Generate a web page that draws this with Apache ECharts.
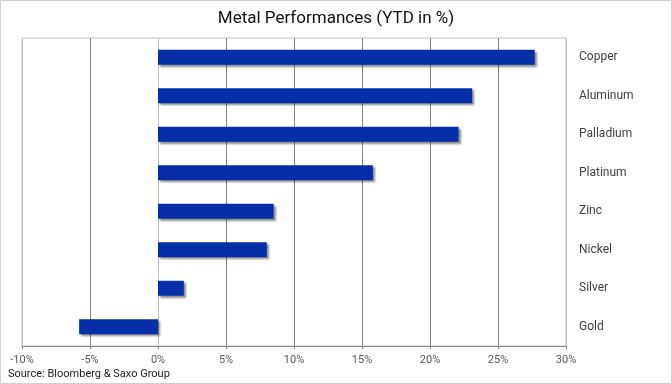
<!DOCTYPE html>
<html>
<head>
<meta charset="utf-8">
<script src="https://cdn.jsdelivr.net/npm/echarts@6/dist/echarts.min.js"></script>
<style>
html,body{margin:0;padding:0;background:#fff;}
#chart{width:672px;height:384px;}
</style>
</head>
<body>
<div id="chart"></div>
<script>
var categories = ['Copper','Aluminum','Palladium','Platinum','Zinc','Nickel','Silver','Gold'];
var values = [27.7, 23.1, 22.1, 15.8, 8.5, 8.0, 1.9, -5.8];
var titleText = 'Metal Performances (YTD in %)';
var sourceText = 'Source: Bloomberg & Saxo Group';

var chart = echarts.init(document.getElementById('chart'), null, {renderer:'canvas'});
var font = 'Roboto, "Noto Sans", sans-serif';
chart.setOption({
  animation:false,
  textStyle:{fontFamily:font},
  title:{text:titleText,left:'center',top:5,
    textStyle:{fontSize:17,fontWeight:'normal',color:'#111',fontFamily:font}},
  grid:{left:22,right:106,top:38,bottom:38,show:true,borderColor:'#c0c0c0',borderWidth:1},
  xAxis:{type:'value',min:-10,max:30,interval:5,
    axisLine:{show:true,lineStyle:{color:'#888'}},
    axisTick:{show:true,length:3,lineStyle:{color:'#888'}},
    axisLabel:{formatter:'{value}%',color:'#595959',fontSize:11,margin:9,fontFamily:font},
    splitLine:{show:true,lineStyle:{color:['#c0c0c0','#868686','#c0c0c0','#868686','#868686','#868686','#868686','#868686','#c0c0c0']}}
  },
  yAxis:{type:'category',data:categories,inverse:true,position:'right',
    axisLine:{show:false},axisTick:{show:false},splitLine:{show:false},
    axisLabel:{align:'left',margin:13,color:'#404040',fontSize:12,fontFamily:font}
  },
  series:[{type:'bar',data:values,barWidth:15,
    itemStyle:{color:'#052EA8',shadowColor:'rgba(0,0,0,0.45)',shadowBlur:2,shadowOffsetX:2,shadowOffsetY:2}
  }],
  graphic:[
    {type:'rect',shape:{x:0.5,y:0.5,width:671,height:383},style:{fill:'none',stroke:'#d0d0d0',lineWidth:1},silent:true},
    {type:'text',left:8,top:369,style:{text:sourceText,fontSize:11,fill:'#222',fontFamily:font}}
  ]
});
</script>
</body>
</html>
